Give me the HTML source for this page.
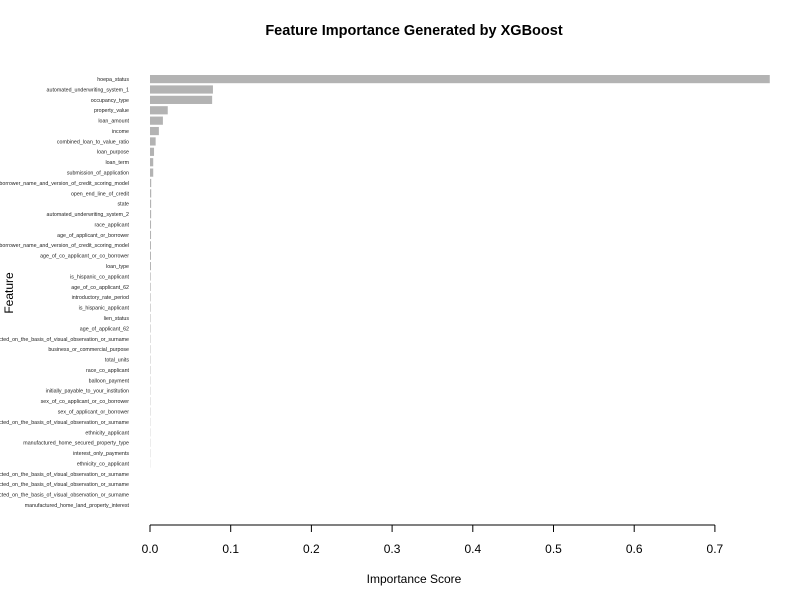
<!DOCTYPE html>
<html><head><meta charset="utf-8"><style>
body{margin:0;background:#fff;}
svg{display:block;font-family:"Liberation Sans",Arial,sans-serif;}
</style></head><body>
<svg id="chart" width="800" height="600">
<text x="414" y="35" text-anchor="middle" font-size="14.5" font-weight="bold">Feature Importance Generated by XGBoost</text>
<text x="414" y="583" text-anchor="middle" font-size="12">Importance Score</text>
<text transform="translate(13,293) rotate(-90)" text-anchor="middle" font-size="12">Feature</text>
<g id="bars"></g><g id="labels"></g><g id="axis"></g>
</svg>
<script>
const features=["hoepa_status","automated_underwriting_system_1","occupancy_type","property_value","loan_amount","income","combined_loan_to_value_ratio","loan_purpose","loan_term","submission_of_application","applicant_or_borrower_name_and_version_of_credit_scoring_model","open_end_line_of_credit","state","automated_underwriting_system_2","race_applicant","age_of_applicant_or_borrower","co_applicant_or_co_borrower_name_and_version_of_credit_scoring_model","age_of_co_applicant_or_co_borrower","loan_type","is_hispanic_co_applicant","age_of_co_applicant_62","introductory_rate_period","is_hispanic_applicant","lien_status","age_of_applicant_62","race_of_co_applicant_collected_on_the_basis_of_visual_observation_or_surname","business_or_commercial_purpose","total_units","race_co_applicant","balloon_payment","initially_payable_to_your_institution","sex_of_co_applicant_or_co_borrower","sex_of_applicant_or_borrower","sex_of_applicant_collected_on_the_basis_of_visual_observation_or_surname","ethnicity_applicant","manufactured_home_secured_property_type","interest_only_payments","ethnicity_co_applicant","ethnicity_of_applicant_collected_on_the_basis_of_visual_observation_or_surname","race_of_applicant_collected_on_the_basis_of_visual_observation_or_surname","sex_of_co_applicant_collected_on_the_basis_of_visual_observation_or_surname","manufactured_home_land_property_interest"];
const importance=[0.768,0.078,0.077,0.022,0.016,0.011,0.007,0.005,0.004,0.004,0.0015,0.0015,0.0014,0.0014,0.0013,0.0013,0.0012,0.0012,0.0012,0.0008,0.0008,0.0007,0.0007,0.0006,0.0006,0.0005,0.0005,0.0005,0.0005,0.0004,0.0004,0.0004,0.0004,0.0003,0.0003,0.0003,0.0003,0.0002,0,0,0,0];
const ticks=[0,0.1,0.2,0.3,0.4,0.5,0.6,0.7];
const tickLabels=["0.0","0.1","0.2","0.3","0.4","0.5","0.6","0.7"];
const NS="http://www.w3.org/2000/svg";
const x=v=>150+v*807;
const y0=79,step=(505-79)/(features.length-1);
const y=i=>y0+i*step;
const bars=document.getElementById('bars'),labels=document.getElementById('labels'),axis=document.getElementById('axis');
features.forEach((f,i)=>{
  const r=document.createElementNS(NS,'rect');
  r.setAttribute('x',150);r.setAttribute('y',y(i)-4);
  r.setAttribute('width',Math.max(0,x(importance[i])-150));r.setAttribute('height',8.2);
  r.setAttribute('fill','#b3b3b3');
  
  
  bars.appendChild(r);
  const t=document.createElementNS(NS,'text');
  t.setAttribute('x',129);t.setAttribute('y',y(i)+2);
  t.setAttribute('text-anchor','end');t.setAttribute('font-size','5.3');t.setAttribute('fill','#222');
  t.textContent=f;
  
  
  labels.appendChild(t);
});
const l=document.createElementNS(NS,'line');
l.setAttribute('x1',x(ticks[0]));l.setAttribute('x2',x(ticks[ticks.length-1]));
l.setAttribute('y1',525);l.setAttribute('y2',525);l.setAttribute('stroke','#000');


axis.appendChild(l);
ticks.forEach((v,i)=>{
  const tk=document.createElementNS(NS,'line');
  tk.setAttribute('x1',x(v));tk.setAttribute('x2',x(v));tk.setAttribute('y1',525);tk.setAttribute('y2',532);tk.setAttribute('stroke','#000');
  
  
  axis.appendChild(tk);
  const tl=document.createElementNS(NS,'text');
  tl.setAttribute('x',x(v));tl.setAttribute('y',553);tl.setAttribute('text-anchor','middle');tl.setAttribute('font-size','12');
  tl.textContent=tickLabels[i];
  
  
  axis.appendChild(tl);
});
</script>
</body></html>
